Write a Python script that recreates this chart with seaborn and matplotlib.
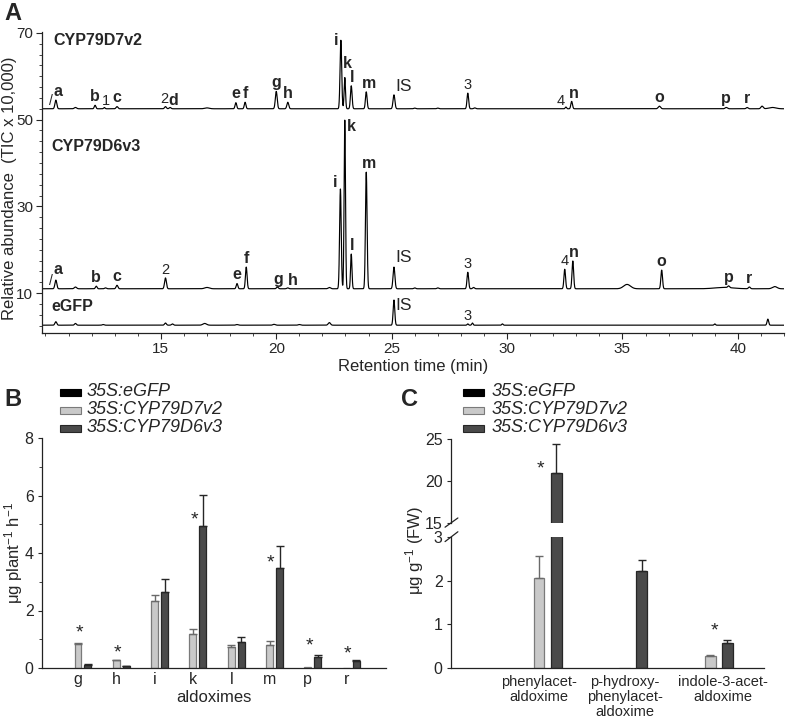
import numpy as np
import pandas as pd
import matplotlib
matplotlib.use("Agg")
import matplotlib.pyplot as plt
import matplotlib.transforms as mtrans
from matplotlib.patches import Rectangle
from matplotlib.ticker import MultipleLocator, NullLocator
import seaborn as sns

# ---------------- Panel A: chromatogram peak tables ----------------
# retention time (min), peak height above baseline (TIC x 10,000), peak sigma (min), label
d7_base = 52.5
d7_rt = [10.45, 11.3, 12.15, 12.55, 13.1, 15.2, 15.4, 17.0, 18.25, 18.65, 20.0, 20.5,
         22.8, 22.97, 23.25, 23.9, 25.1, 26.0, 27.0, 28.3, 28.6, 32.55, 32.8, 36.6,
         39.5, 40.4, 41.05, 41.5]
d7_height = [2.0, 0.3, 0.8, 0.3, 0.5, 0.5, 0.3, 0.2, 1.4, 1.5, 4.0, 1.5,
             15.8, 7.2, 5.3, 3.9, 3.2, 0.15, 0.15, 3.6, 0.2, 0.4, 1.7, 0.6,
             0.3, 0.3, 0.6, 0.3]
d7_sigma = [0.04, 0.05, 0.035, 0.03, 0.04, 0.04, 0.04, 0.1, 0.035, 0.035, 0.04, 0.04,
            0.035, 0.03, 0.035, 0.035, 0.04, 0.04, 0.04, 0.035, 0.04, 0.03, 0.035, 0.05,
            0.05, 0.04, 0.05, 0.15]
d7_label = ['a', '', 'b', '1', 'c', '2', 'd', '', 'e', 'f', 'g', 'h',
            'i', 'k', 'l', 'm', 'IS', '', '', '3', '', '4', 'n', 'o',
            'p', 'r', '', '']

d6_base = 11.0
d6_rt = [10.45, 11.3, 12.2, 12.6, 13.1, 15.2, 17.0, 18.3, 18.7, 20.05, 20.5, 22.3,
         22.78, 22.97, 23.25, 23.9, 25.1, 26.0, 27.0, 28.3, 28.55, 32.5, 32.85, 35.2,
         36.7, 39.4, 39.6, 40.5, 41.6]
d6_height = [2.0, 0.4, 0.6, 0.2, 0.8, 2.5, 0.3, 1.2, 5.0, 0.4, 0.2, 0.3,
             23.0, 38.9, 8.0, 26.9, 5.0, 0.2, 0.2, 3.8, 0.3, 4.5, 6.4, 1.0,
             4.3, 0.3, 0.4, 0.4, 0.5]
d6_sigma = [0.04, 0.05, 0.035, 0.04, 0.04, 0.04, 0.1, 0.035, 0.035, 0.04, 0.04, 0.05,
            0.035, 0.03, 0.03, 0.035, 0.04, 0.04, 0.04, 0.035, 0.04, 0.035, 0.035, 0.15,
            0.035, 0.4, 0.04, 0.04, 0.1]
d6_label = ['a', '', 'b', '', 'c', '2', '', 'e', 'f', 'g', 'h', '',
            'i', 'k', 'l', 'm', 'IS', '', '', '3', '', '4', 'n', '',
            'o', '', 'p', 'r', '']

gfp_base = 2.6
gfp_rt = [10.45, 11.3, 12.5, 15.2, 15.5, 16.9, 18.3, 19.9, 21.0, 22.3, 25.1,
          28.3, 28.5, 29.8, 39.0, 41.3]
gfp_height = [0.8, 0.4, 0.15, 0.5, 0.3, 0.4, 0.15, 0.2, 0.15, 0.6, 5.8,
              0.3, 0.5, 0.3, 0.3, 1.4]
gfp_sigma = [0.04, 0.04, 0.04, 0.04, 0.04, 0.08, 0.05, 0.05, 0.05, 0.05, 0.035,
             0.03, 0.03, 0.03, 0.03, 0.035]
gfp_label = ['', '', '', '', '', '', '', '', '', '', 'IS',
             '3', '', '', '', '']

trace_names = ['CYP79D7v2', 'CYP79D6v3', 'eGFP']

# ---------------- Panel B data ----------------
genotypes = ['35S:eGFP', '35S:CYP79D7v2', '35S:CYP79D6v3']
b_cats = ['g', 'h', 'i', 'k', 'l', 'm', 'p', 'r']
b_egfp = [0, 0, 0, 0, 0, 0, 0, 0]
b_d7 = [0.85, 0.27, 2.34, 1.19, 0.74, 0.80, 0.05, 0.01]
b_d7_err = [0.02, 0.01, 0.21, 0.18, 0.06, 0.13, 0.0, 0.0]
b_d6 = [0.12, 0.06, 2.65, 4.95, 0.90, 3.48, 0.37, 0.23]
b_d6_err = [0.02, 0.01, 0.44, 1.08, 0.18, 0.77, 0.09, 0.06]
b_star_y = [1.47, 0.75, None, 5.4, None, 3.9, 1.0, 0.73]

# ---------------- Panel C data ----------------
c_cats = ['phenylacet-\naldoxime', 'p-hydroxy-\nphenylacet-\naldoxime', 'indole-3-acet-\naldoxime']
c_egfp = [0, 0, 0]
c_d7 = [2.07, 0.0, 0.27]
c_d7_err = [0.49, 0.0, 0.02]
c_d6 = [20.95, 2.22, 0.57]
c_d6_err = [3.4, 0.26, 0.06]
c_star_y = [22.2, None, 1.0]

# ---------------- style ----------------
sns.set_theme(style='ticks')
plt.rcParams['font.family'] = ['Liberation Sans', 'DejaVu Sans']
plt.rcParams['mathtext.fontset'] = 'custom'
plt.rcParams['mathtext.rm'] = 'Liberation Sans'
plt.rcParams['mathtext.it'] = 'Liberation Sans:italic'
plt.rcParams['axes.linewidth'] = 0.9
plt.rcParams['axes.edgecolor'] = '#222222'

W, H = 797, 722
fig = plt.figure(figsize=(W / 100, H / 100), dpi=100)


def px_rect(left, top, right, bottom):
    return [left / W, 1 - bottom / H, (right - left) / W, (bottom - top) / H]


# ================= Panel A =================
axA = fig.add_axes(px_rect(42, 32, 784, 333))
t = np.linspace(9.85, 42.0, 7000)


def build(base, rt, hh, ss):
    y = np.full_like(t, base)
    for r, h, s in zip(rt, hh, ss):
        y = y + h * np.exp(-0.5 * ((t - r) / s) ** 2)
    return y


traces = [
    (d7_base, d7_rt, d7_height, d7_sigma, d7_label),
    (d6_base, d6_rt, d6_height, d6_sigma, d6_label),
    (gfp_base, gfp_rt, gfp_height, gfp_sigma, gfp_label),
]

# label layout: (trace index, label) -> (dx, dy, ha, va)
label_layout = {
    (0, 'a'): (0.08, 0.2, 'center', 'bottom'),
    (0, '2'): (-0.05, 0.1, 'center', 'bottom'),
    (0, 'd'): (0.12, -0.2, 'center', 'bottom'),
    (0, '1'): (0.05, -0.2, 'center', 'bottom'),
    (0, 'i'): (-0.12, 1.6, 'right', 'top'),
    (0, 'k'): (0.1, 1.4, 'center', 'bottom'),
    (0, 'l'): (0.02, 0.2, 'center', 'bottom'),
    (0, 'm'): (0.1, 0.2, 'center', 'bottom'),
    (0, 'IS'): (0.08, 0.3, 'left', 'bottom'),
    (0, '4'): (-0.03, -0.3, 'right', 'bottom'),
    (0, 'n'): (0.08, 0.2, 'center', 'bottom'),
    (1, 'a'): (0.1, 0.8, 'center', 'bottom'),
    (1, 'g'): (0.05, 0.0, 'center', 'bottom'),
    (1, 'h'): (0.2, 0.0, 'center', 'bottom'),
    (1, 'i'): (-0.12, 1.5, 'right', 'center'),
    (1, 'k'): (0.08, 0.3, 'left', 'top'),
    (1, 'l'): (0.05, 0.3, 'center', 'bottom'),
    (1, 'm'): (0.12, 0.3, 'center', 'bottom'),
    (1, 'IS'): (0.08, 0.4, 'left', 'bottom'),
    (1, 'n'): (0.05, 0.3, 'center', 'bottom'),
    (2, 'IS'): (0.08, -1.3, 'left', 'center'),
    (2, '3'): (0.0, 0.1, 'center', 'bottom'),
}

for ti, (base, rt, hh, ss, lab) in enumerate(traces):
    y = build(base, rt, hh, ss)
    sns.lineplot(x=t, y=y, ax=axA, color='black', linewidth=0.85, estimator=None, sort=False)
    for r, l in zip(rt, lab):
        if not l:
            continue
        idx = np.argmin(np.abs(t - r))
        lo, hi = max(idx - 8, 0), idx + 9
        top = y[lo:hi].max()
        dx, dy, ha, va = label_layout.get((ti, l), (0.0, 0.3, 'center', 'bottom'))
        if l == 'IS':
            kw = dict(fontsize=12.5)
        elif l.isdigit():
            kw = dict(fontsize=10.5)
        else:
            kw = dict(fontsize=11.5, fontweight='bold')
        axA.text(r + dx, top + dy, l, ha=ha, va=va, **kw)

# shoulder marks next to peak a
for base in (d7_base, d6_base):
    axA.text(10.22, base + 0.2, '/', fontsize=10, ha='center', va='bottom')

axA.text(10.35, 68.2, trace_names[0], fontsize=11.5, fontweight='bold', va='center')
axA.text(10.25, 43.7, trace_names[1], fontsize=11.5, fontweight='bold', va='center')
axA.text(10.25, 6.8, trace_names[2], fontsize=11.5, fontweight='bold', va='center')

axA.set_xlim(9.85, 42.0)
axA.set_ylim(0.8, 70.2)
axA.set_xticks([15, 20, 25, 30, 35, 40])
axA.xaxis.set_minor_locator(MultipleLocator(1))
axA.set_yticks([10, 30, 50, 70])
axA.yaxis.set_minor_locator(MultipleLocator(2.5))
axA.tick_params(axis='both', which='major', labelsize=11, length=4, width=0.8, pad=2.5)
axA.tick_params(axis='both', which='minor', length=2.5, width=0.6)
sns.despine(ax=axA)
axA.set_xlabel('Retention time (min)', fontsize=12, labelpad=2)
axA.set_ylabel('')
fig.text(10 / W, 1 - 188 / H, 'Relative abundance  (TIC x 10,000)', rotation=90,
         fontsize=12, ha='center', va='center')

# ================= bar helpers =================
pal = {'35S:eGFP': '#000000', '35S:CYP79D7v2': '#c9c9c9', '35S:CYP79D6v3': '#4a4a4a'}
edge = {'35S:eGFP': '#000000', '35S:CYP79D7v2': '#7a7a7a', '35S:CYP79D6v3': '#262626'}
ecol = {'35S:eGFP': '#000000', '35S:CYP79D7v2': '#6a6a6a', '35S:CYP79D6v3': '#262626'}


def long_df(cats, e, d7, d6):
    rows = []
    for g, vals in zip(genotypes, (e, d7, d6)):
        for c, v in zip(cats, vals):
            rows.append({'cat': c, 'genotype': g, 'value': v})
    return pd.DataFrame(rows)


def draw_bars(ax, df, cats, errs, width, gap):
    sns.barplot(data=df, x='cat', y='value', hue='genotype', order=cats,
                hue_order=genotypes, palette=pal, saturation=1, width=width, gap=gap,
                errorbar=None, legend=False, ax=ax)
    for g, cont in zip(genotypes, ax.containers):
        for bar in cont:
            bar.set_edgecolor(edge[g])
            bar.set_linewidth(0.9 if g != '35S:eGFP' else 0)
    for g, cont, err in zip(genotypes[1:], ax.containers[1:], errs):
        xs, ys, es = [], [], []
        for bar, e in zip(cont, err):
            if e > 0:
                xs.append(bar.get_x() + bar.get_width() / 2)
                ys.append(bar.get_height())
                es.append(e)
        ax.errorbar(xs, ys, yerr=[np.zeros(len(es)), es], fmt='none', ecolor=ecol[g],
                    elinewidth=1.0, capsize=3, capthick=1.0)


def stars(ax, ys, dx=0.03):
    tr = mtrans.offset_copy(ax.transData, fig=fig, x=0, y=-0.58 * 14, units='points')
    for i, y in enumerate(ys):
        if y is not None:
            ax.text(i + dx, y, '*', transform=tr, fontsize=14, ha='center', va='baseline')


def legend(x_patch, x_text, rows):
    for g, yrow in zip(genotypes, rows):
        fig.add_artist(Rectangle((x_patch / W, 1 - (yrow + 3.5) / H), 21 / W, 7 / H,
                                 transform=fig.transFigure, facecolor=pal[g],
                                 edgecolor=edge[g], linewidth=0.8))
        fig.text(x_text / W, 1 - yrow / H, g, fontsize=13, style='italic',
                 ha='left', va='center')


# ================= Panel B =================
axB = fig.add_axes(px_rect(42, 438, 386, 668))
dfB = long_df(b_cats, b_egfp, b_d7, b_d6)
draw_bars(axB, dfB, b_cats, [b_d7_err, b_d6_err], width=0.78, gap=0.3)
stars(axB, b_star_y)
axB.set_xlim(-0.94, 8.04)
axB.set_ylim(0, 8)
axB.set_yticks([0, 2, 4, 6, 8])
axB.yaxis.set_minor_locator(MultipleLocator(1))
axB.tick_params(axis='y', which='major', labelsize=11.5, length=3, width=0.8, pad=3)
axB.tick_params(axis='y', which='minor', length=2, width=0.6)
axB.tick_params(axis='x', length=0, labelsize=11.5, pad=3)
sns.despine(ax=axB)
axB.set_xlabel('aldoximes', fontsize=12, labelpad=2)
axB.set_ylabel('')
fig.text(14 / W, 1 - 553 / H, 'μg plant$^{-1}$ h$^{-1}$', rotation=90,
         fontsize=12, ha='center', va='center')
legend(60, 87, [392, 410, 428])

# ================= Panel C (broken axis) =================
dfC = long_df(c_cats, c_egfp, c_d7, c_d6)
axCl = fig.add_axes(px_rect(451, 537, 764, 668))
axCu = fig.add_axes(px_rect(451, 439, 764, 523))
for ax in (axCl, axCu):
    draw_bars(ax, dfC, c_cats, [c_d7_err, c_d6_err], width=0.6, gap=0.37)
    ax.set_xlim(-1.03, 2.63)
    ax.set_ylabel('')
    ax.set_xlabel('')
axCl.set_ylim(0, 3)
axCu.set_ylim(15, 25)
axCl.set_yticks([0, 1, 2, 3])
axCu.set_yticks([15, 20, 25])
stars(axCu, [c_star_y[0], None, None], dx=0.02)
stars(axCl, [None, None, c_star_y[2]], dx=0.05)
for ax in (axCl, axCu):
    ax.tick_params(axis='y', labelsize=11.5, length=3, width=0.8, pad=3)
    ax.yaxis.set_minor_locator(NullLocator())
sns.despine(ax=axCl)
sns.despine(ax=axCu, bottom=True)
axCu.tick_params(axis='x', length=0, labelbottom=False)
axCl.tick_params(axis='x', length=0, labelsize=10.5, pad=5)
fig.canvas.draw()
xlabels = axCl.get_xticklabels()
for lbl in xlabels:
    lbl.set_linespacing(1.1)
# the last category label sits a little to the right of its bars
xlabels[-1].set_transform(xlabels[-1].get_transform() +
                          mtrans.ScaledTranslation(13 / 100, 0, fig.dpi_scale_trans))

# break marks on the y axis
kw = dict(color='#222222', linewidth=0.9, clip_on=False)
axCu.plot([-0.019, 0.022], [-0.05, 0.06], transform=axCu.transAxes, **kw)
axCl.plot([-0.019, 0.022], [1.0 - 0.035, 1.0 + 0.04], transform=axCl.transAxes, **kw)

fig.text(415 / W, 1 - 550 / H, 'μg g$^{-1}$ (FW)', rotation=90,
         fontsize=12, ha='center', va='center')
legend(463, 492, [392, 410, 428])

# panel letters
fig.text(4 / W, 1 - 13 / H, 'A', fontsize=17, fontweight='bold', ha='left', va='center')
fig.text(4 / W, 1 - 399 / H, 'B', fontsize=17, fontweight='bold', ha='left', va='center')
fig.text(401 / W, 1 - 399 / H, 'C', fontsize=17, fontweight='bold', ha='left', va='center')

fig.savefig('out.png', dpi=100)
